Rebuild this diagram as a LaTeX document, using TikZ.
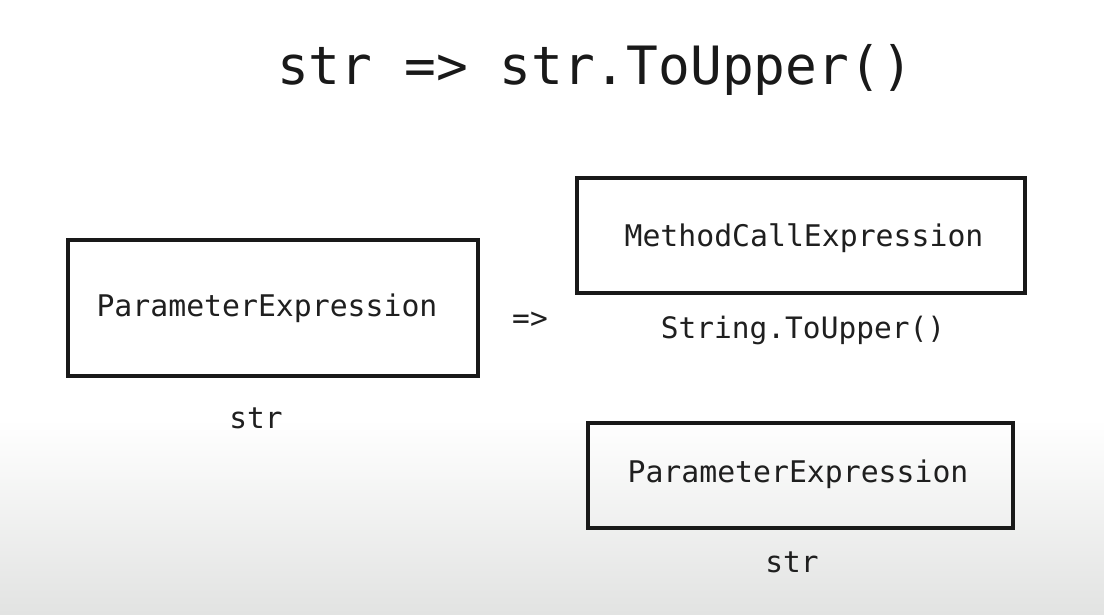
\documentclass[tikz,border=0pt]{standalone}
\usepackage{fontspec}
\setmonofont{DejaVu Sans Mono}
\begin{document}
\begin{tikzpicture}[x=1pt,y=-1pt,
  boxline/.style={draw=black!90,line width=3.4pt},
  boxtext/.style={font=\ttfamily\fontsize{29.8}{32}\selectfont,text=black!88,inner sep=0pt},
  labeltext/.style={font=\ttfamily\fontsize{29.5}{32}\selectfont,text=black!88,inner sep=0pt}]
\useasboundingbox (0,0) rectangle (1104,614);
\fill[white] (0,0) rectangle (1104,420);
\shade[top color=white,bottom color={rgb,255:red,226;green,227;blue,226}] (0,419) rectangle (1104,614);
% title
\node[font=\ttfamily\fontsize{52.8}{56}\selectfont,text=black!90,inner sep=0pt] (title) at (595,70) {str => str.ToUpper()};
% boxes
\draw[boxline] (68,240) rectangle (478,376);
\node[inner sep=0pt,minimum width=410pt,minimum height=136pt] (p1) at (273,308) {};
\node[boxtext] (p1t) at (267,308) {ParameterExpression};
\node[labeltext] (s1) at (256,418) {str};
\node[labeltext] (arr) at (530,320) {=>};
\draw[boxline] (577,178) rectangle (1025,293);
\node[inner sep=0pt,minimum width=448pt,minimum height=115pt] (m) at (801,235.5) {};
\node[boxtext] (mt) at (804,238) {MethodCallExpression};
\node[labeltext] (mlab) at (803,330) {String.ToUpper()};
\draw[boxline] (588,423) rectangle (1013,528);
\node[inner sep=0pt,minimum width=425pt,minimum height=105pt] (p2) at (800.5,475.5) {};
\node[boxtext] (p2t) at (798,474) {ParameterExpression};
\node[labeltext] (s2) at (792,562) {str};
\end{tikzpicture}
\end{document}
